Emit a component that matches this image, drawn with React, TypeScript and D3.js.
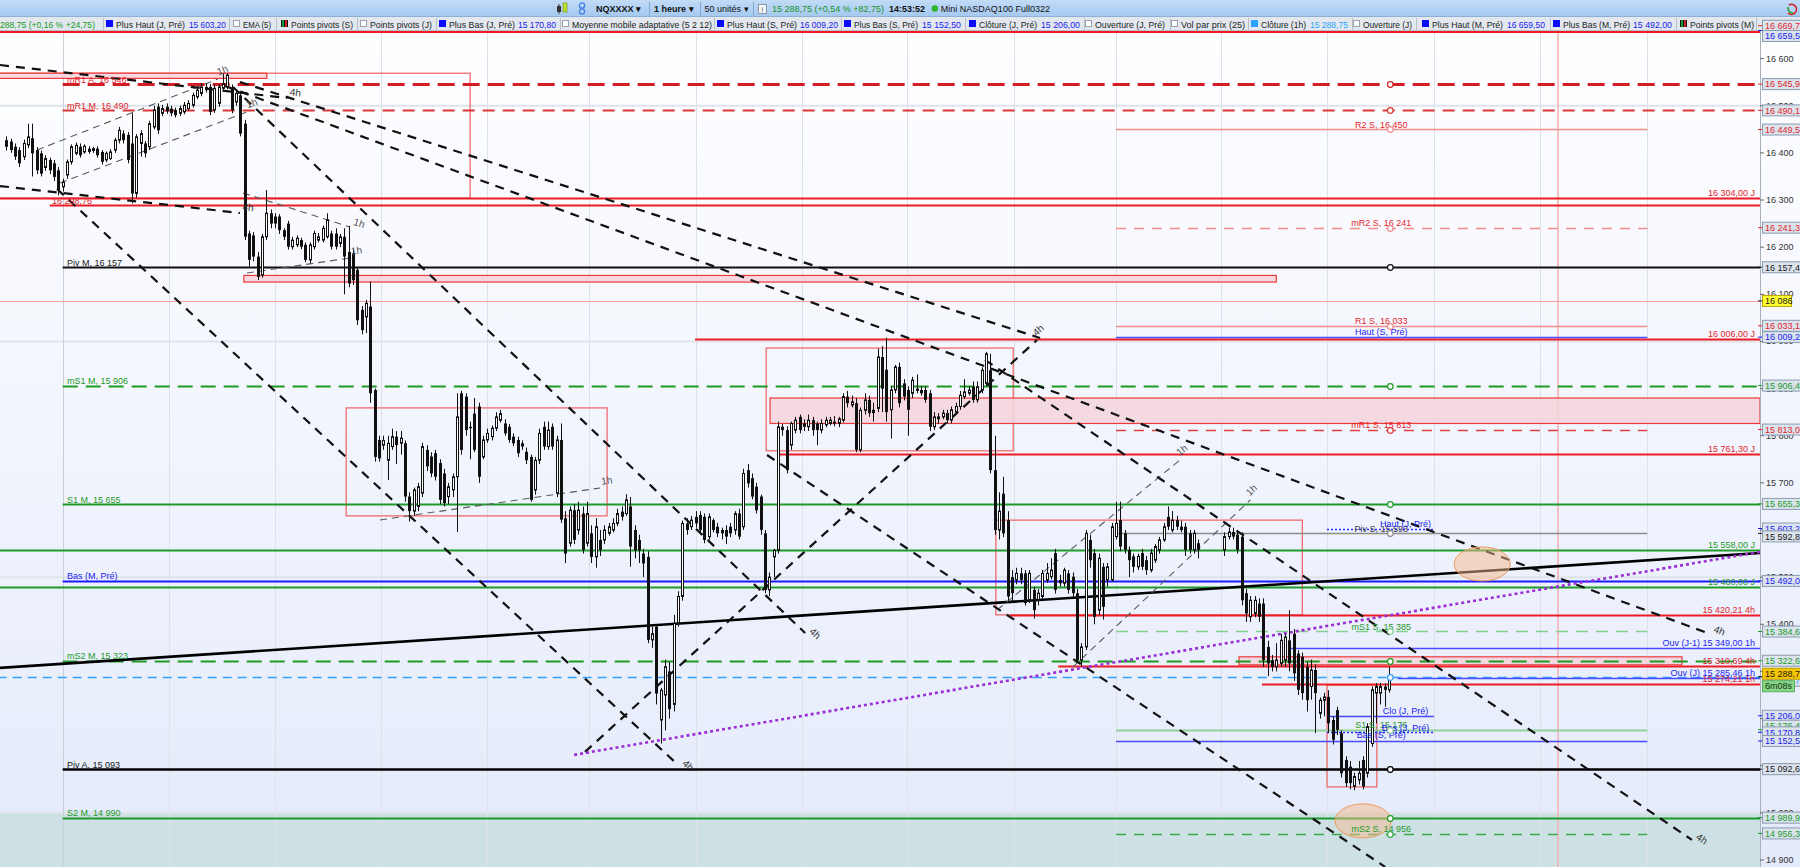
import React from 'react';
import * as d3 from 'd3';

type C = [number, number, number, number] | null;

// ---------- DATA ----------
// hourly candles [open, high, low, close]; null = no bar
const candles: C[] = [
  [16427,16435,16405,16413],[16424,16430,16400,16406],[16413,16420,16385,16392],[16406,16412,16370,16378],
  [16392,16428,16385,16420],[16417,16462,16410,16434],[16431,16462,16350,16399],[16406,16412,16355,16363],
  [16399,16405,16350,16356],[16369,16395,16362,16388],[16385,16390,16355,16363],[16378,16385,16340,16349],
  [16363,16370,16310,16321],[16328,16345,16318,16338],[16353,16386,16345,16381],[16381,16418,16375,16413],
  [16399,16422,16395,16416],[16413,16420,16390,16395],[16402,16418,16398,16414],[16409,16414,16398,16402],
  [16405,16413,16400,16409],[16409,16414,16390,16395],[16402,16406,16375,16381],[16385,16403,16380,16399],
  [16388,16408,16385,16402],[16406,16432,16400,16427],[16427,16455,16420,16448],[16441,16448,16420,16427],
  [16438,16444,16378,16385],[16420,16484,16293,16314],[16314,16440,16305,16434],[16420,16448,16392,16441],
  [16420,16425,16390,16399],[16413,16468,16406,16462],[16455,16500,16450,16491],[16498,16505,16440,16448],
  [16484,16502,16478,16494],[16498,16505,16483,16488],[16494,16500,16478,16484],[16491,16496,16475,16480],
  [16484,16500,16478,16494],[16487,16508,16482,16501],[16494,16512,16490,16505],[16501,16528,16496,16522],
  [16519,16540,16514,16533],[16526,16548,16520,16540],[16540,16548,16528,16533],[16540,16546,16480,16487],
  [16491,16545,16485,16537],[16505,16546,16498,16540],[16537,16568,16530,16547],[16540,16569,16535,16565],
  [16537,16545,16484,16491],[16508,16535,16500,16526],[16522,16530,16435,16441],[16462,16470,16215,16222],
  [16229,16235,16159,16173],[16225,16232,16170,16180],[16180,16190,16130,16137],[16141,16228,16135,16222],
  [16222,16321,16215,16272],[16272,16280,16240,16250],[16265,16272,16240,16250],[16265,16270,16228,16236],
  [16236,16240,16215,16222],[16250,16256,16195,16201],[16201,16222,16195,16215],[16205,16225,16200,16219],
  [16215,16220,16196,16201],[16205,16210,16168,16173],[16173,16210,16166,16205],[16201,16235,16195,16229],
  [16215,16230,16210,16222],[16215,16246,16210,16240],[16222,16272,16218,16258],[16229,16235,16195,16201],
  [16229,16240,16195,16201],[16208,16228,16200,16222],[16222,16240,16100,16180],[16190,16245,16115,16123],
  [16187,16195,16120,16130],[16152,16158,16035,16045],[16067,16075,16015,16024],[16052,16088,16018,16081],
  [16074,16127,15870,15890],[15897,15900,15745,15755],[15791,15800,15745,15752],[15780,15800,15770,15790],
  [15748,15800,15706,15784],[15777,15815,15770,15798],[15798,15810,15740,15780],[15784,15810,15760,15795],
  [15784,15790,15660,15671],[15671,15680,15618,15640],[15640,15690,15630,15685],[15650,15700,15640,15692],
  [15678,15785,15670,15777],[15770,15780,15725,15735],[15756,15765,15712,15720],[15763,15770,15705,15713],
  [15742,15750,15655,15664],[15720,15730,15650,15657],[15671,15700,15655,15692],[15685,15720,15670,15713],
  [15713,15890,15596,15840],[15890,15895,15760,15770],[15883,15890,15800,15812],[15819,15830,15750,15816],
  [15847,15880,15765,15770],[15862,15870,15700,15713],[15755,15800,15750,15791],[15791,15815,15785,15805],
  [15798,15822,15790,15816],[15816,15850,15810,15840],[15833,15855,15828,15847],[15826,15835,15800,15805],
  [15819,15825,15785,15791],[15798,15805,15778,15784],[15791,15798,15755,15763],[15784,15790,15770,15777],
  [15766,15775,15740,15748],[15755,15760,15660,15664],[15685,15755,15675,15748],[15748,15815,15740,15805],
  [15819,15830,15770,15777],[15777,15830,15770,15812],[15819,15826,15770,15777],[15678,15800,15670,15791],
  [15791,15826,15615,15622],[15625,15640,15530,15550],[15572,15650,15565,15642],[15642,15655,15570,15579],
  [15600,15660,15590,15642],[15635,15650,15550,15558],[15572,15660,15565,15635],[15593,15610,15530,15543],
  [15543,15625,15520,15607],[15579,15600,15545,15558],[15579,15610,15570,15600],[15593,15615,15588,15607],
  [15600,15625,15595,15614],[15614,15645,15608,15635],[15639,15650,15620,15628],
  [15635,15676,15630,15664],[15650,15670,15522,15565],[15600,15610,15540,15557],[15579,15590,15530,15557],
  [15550,15560,15500,15529],[15543,15555,15360,15367],[15367,15395,15350,15380],[15395,15400,15230,15253],
  [15197,15265,15147,15260],[15250,15325,15175,15310],[15300,15320,15200,15220],[15230,15420,15215,15402],
  [15402,15470,15395,15459],[15459,15620,15450,15614],[15614,15625,15590,15600],[15607,15630,15600,15621],
  [15628,15640,15605,15614],[15632,15640,15590,15600],[15628,15635,15572,15579],[15586,15635,15580,15628],
  [15621,15625,15595,15600],[15607,15615,15585,15593],[15600,15605,15580,15593],[15600,15610,15570,15586],
  [15607,15615,15585,15593],[15600,15640,15590,15635],[15635,15645,15580,15586],[15607,15730,15600,15720],
  [15727,15740,15690,15699],[15710,15720,15665,15671],[15692,15700,15635,15642],[15671,15675,15590,15600],
  [15593,15600,15466,15473],[15473,15510,15460,15500],[15543,15560,15500,15557],[15557,15830,15550,15819],
  [15819,15825,15800,15812],[15812,15820,15720,15727],[15780,15830,15770,15826],[15812,15840,15805,15833],
  [15840,15845,15805,15812],[15826,15835,15810,15819],[15819,15845,15810,15833],[15833,15840,15800,15812],
  [15826,15830,15780,15812],[15812,15835,15805,15826],[15823,15840,15818,15833],[15826,15840,15822,15833],
  [15830,15842,15820,15826],[15826,15840,15818,15836],[15833,15890,15828,15883],[15883,15895,15860,15869],
  [15865,15885,15860,15872],[15869,15880,15765,15770],[15770,15860,15765,15854],[15854,15890,15845,15876],
  [15876,15885,15840,15848],[15855,15870,15830,15848],[15858,15985,15850,15967],[15967,15990,15850,15900],
  [15940,16008,15830,15850],[15855,15905,15794,15897],[15897,15950,15890,15946],[15946,15955,15860,15869],
  [15911,15920,15875,15883],[15897,15905,15800,15855],[15890,15925,15880,15918],[15900,15930,15890,15895],
  [15897,15905,15885,15890],[15897,15905,15870,15876],[15890,15897,15810,15819],[15819,15850,15812,15840],
  [15836,15848,15825,15840],[15840,15855,15835,15848],[15848,15855,15826,15833],[15833,15862,15826,15855],
  [15850,15870,15845,15862],[15862,15895,15855,15886],[15883,15920,15878,15893],[15890,15905,15885,15897],
  [15904,15915,15870,15876],[15876,15915,15870,15904],[15897,15945,15890,15939],[15911,15978,15905,15974],
  [15939,15974,15720,15727],[15727,15800,15590,15600],[15600,15680,15580,15640],[15677,15713,15585,15593],
  [15621,15640,15450,15459],[15500,15515,15445,15466],[15494,15520,15485,15508],[15508,15520,15485,15494],
  [15508,15515,15440,15445],[15451,15515,15445,15508],[15473,15480,15412,15430],[15451,15475,15440,15466],
  [15459,15515,15450,15508],[15494,15530,15488,15508],[15501,15540,15495,15515],[15551,15560,15465,15473],
  [15494,15505,15480,15487],[15487,15520,15480,15515],[15508,15515,15465,15473],[15501,15510,15455,15466],
  [15466,15475,15318,15324],[15324,15360,15310,15352],[15352,15600,15345,15593],[15579,15590,15520,15536],
  [15551,15560,15400,15416],[15430,15550,15420,15540],[15522,15530,15410,15437],[15494,15530,15480,15522],
  [15494,15615,15490,15607],[15586,15660,15580,15614],[15621,15660,15555,15565],[15593,15600,15550,15558],
  [15558,15565,15500,15536],[15544,15550,15510,15522],[15522,15550,15515,15544],[15551,15560,15515,15522],
  [15536,15545,15505,15515],[15515,15560,15510,15551],[15536,15570,15530,15565],[15558,15585,15550,15579],
  [15579,15615,15575,15607],[15628,15650,15600,15607],[15600,15640,15595,15621],[15621,15630,15600,15607],
  [15607,15620,15595,15600],[15607,15615,15545,15558],[15593,15600,15550,15558],[15558,15600,15550,15593],
  [15572,15580,15540,15558],
  null, null, null, null, null,
  [15558,15595,15545,15586],[15586,15605,15580,15596],[15596,15605,15580,15586],[15590,15600,15550,15558],
  [15586,15595,15440,15451],[15466,15475,15405,15423],[15416,15460,15405,15451],[15423,15460,15415,15451],
  [15444,15455,15405,15416],[15444,15455,15310,15324],[15352,15365,15290,15317],[15324,15335,15300,15310],
  [15310,15360,15300,15324],[15317,15380,15310,15366],[15324,15380,15310,15373],[15366,15430,15300,15317],
  [15380,15390,15280,15296],[15338,15345,15250,15261],[15331,15340,15240,15254],[15310,15320,15215,15239],
  [15268,15325,15240,15303],[15303,15315,15169,15254],[15211,15245,15200,15239],[15239,15255,15205,15246],
  [15246,15260,15170,15190],[15197,15205,15145,15155],[15218,15225,15165,15176],[15169,15175,15075,15084],
  [15112,15120,15055,15063],[15098,15110,15050,15063],[15056,15085,15048,15077],[15070,15110,15060,15084],
  [15112,15120,15050,15056],[15084,15190,15075,15183],[15147,15268,15140,15261],[15254,15275,15190,15268],
  [15254,15275,15230,15268],[15268,15275,15225,15261],[15261,15310,15255,15288.75],
];

const priceTicks = d3.range(14900, 16601, 100);
const bandLevels = [16500, 16000, 15500, 15000];
const daySlots = [14, 38.5, 63, 87.5, 112, 135.4, 160.1, 184.6, 208.8, 233.5, 257, 281.3, 305.7, 330.4, 354.9, 379.6];
const LAST_SLOT = 320;
const RIGHT_SLOT = 405.6;
const NOW_SLOT = 359;
const MONTH_START = 14;
const WEEK_START = 257, WEEK_END = 379.6;
const DAY_START = 305.7, DAY_END = 330.4;
const MARK_SLOT = 320.3;

const longPivots = [
  { name: 'mR1 A', value: 16546, kind: 'redDashBold' },
  { name: 'mR1 M', value: 16490, kind: 'redDash' },
  { name: 'Piv M', value: 16157, kind: 'black' },
  { name: 'mS1 M', value: 15906, kind: 'greenDash' },
  { name: 'S1 M', value: 15655, kind: 'green' },
  { name: 'mS2 M', value: 15323, kind: 'greenDash' },
  { name: 'Piv A', value: 15093, kind: 'blackBold' },
  { name: 'S2 M', value: 14990, kind: 'green' },
];
const weekPivots = [
  { name: 'R2 S', value: 16450, kind: 'lightRed' },
  { name: 'mR2 S', value: 16241, kind: 'lightRedDash' },
  { name: 'R1 S', value: 16033, kind: 'lightRed' },
  { name: 'mR1 S', value: 15813, kind: 'redDashThin' },
  { name: 'Piv S', value: 15593, kind: 'gray' },
  { name: 'mS1 S', value: 15385, kind: 'lightGreenDash' },
  { name: 'S1 S', value: 15176, kind: 'lightGreen' },
  { name: 'mS2 S', value: 14956, kind: 'greenDashThin' },
];
const monthPrev = [{ name: 'Bas (M, Pré)', value: 15492, kind: 'blue' }];
const weekPrev = [
  { name: 'Haut (S, Pré)', value: 16009.2, kind: 'blueThin' },
  { name: 'Bas (S, Pré)', value: 15152.5, kind: 'blueThin' },
];
const dayPrev = [
  { name: 'Haut (J, Pré)', value: 15603.2, kind: 'blueDot' },
  { name: 'Clo (J, Pré)', value: 15206, kind: 'blueThin' },
  { name: 'Bas (J, Pré)', value: 15170.8, kind: 'blueDot' },
];
const rightLevels = [
  { value: 16304, label: '16 304,00 J', from: -1, kind: 'red' },
  { value: 16006, label: '16 006,00 J', from: 159.9, kind: 'red' },
  { value: 15761.3, label: '15 761,30 J', from: 179.5, kind: 'red' },
  { value: 15558, label: '15 558,00 J', from: -1, kind: 'green' },
  { value: 15480, label: '15 480,00 J', from: -1, kind: 'green' },
  { value: 15420.21, label: '15 420,21 4h', from: 232.6, kind: 'red' },
  { value: 15349, label: 'Ouv (J-1) 15 349,00 1h', from: 296.7, kind: 'blueThin' },
  { value: 15310.69, label: '15 310,69 4h', from: 243.7, kind: 'red' },
  { value: 15285.46, label: 'Ouv (J) 15 285,46 1h', from: 322, kind: 'blueThin' },
  { value: 15274.21, label: '15 274,21 1h', from: 290.7, kind: 'red' },
];
const leftTaggedLevel = { value: 16290, label: '16 298,76', from: 11, kind: 'red' };
const thinLevel = { value: 16086, kind: 'pink' };
const closeLevel = { value: 15288.75, kind: 'lightBlueDash' };

const trendLines = [
  { from: [-0.46, 16586.4], to: [65.8, 16516.4], tag: '4h' },
  { from: [51.5, 16541.9], to: [394.1, 15379.4], tag: '4h' },
  { from: [54.9, 16550.4], to: [239.5, 16007.3], tag: '' },
  { from: [-0.46, 16329.7], to: [54.9, 16272.5], tag: '4h' },
  { from: [12.7, 16323.4], to: [156.0, 15101.5], tag: '4h' },
  { from: [53.3, 16539.8], to: [185.3, 15381.5], tag: '4h' },
  { from: [226.8, 15960.9], to: [389.9, 14942.6], tag: '4h' },
  { from: [176.5, 15759.1], to: [319.1, 14885.4], tag: '' },
  { from: [134.5, 15129.3], to: [238.8, 16003.1], tag: '4h' },
];
const thinLines = [
  { from: [8.1, 16406.1], to: [49.8, 16556.7], tag: '1h' },
  { from: [13.4, 16336.1], to: [56.5, 16486.7], tag: '1h' },
  { from: [55.6, 16314.9], to: [80.3, 16242.8], tag: '1h' },
  { from: [56.5, 16145.2], to: [80.3, 16177.0], tag: '1h' },
  { from: [87.2, 15621.3], to: [138.0, 15689.2], tag: '1h' },
  { from: [229.6, 15430.5], to: [271.8, 15748.7], tag: '1h' },
  { from: [247.1, 15309.6], to: [288.0, 15663.7], tag: '1h' },
];
const channelLine = { from: [-0.46, 15307.5], to: [405.6, 15551.4] };
const purpleLine = { from: [132.0, 15123.0], to: [405.6, 15553.5] };

const zones = [
  { x0: -1, x1: 108.0, p0: 16304, p1: 16569, fill: false },
  { x0: -1, x1: 61.1, p0: 16558, p1: 16569, fill: true },
  { x0: 55.8, x1: 294.0, p0: 16126, p1: 16140, fill: true },
  { x0: 79.4, x1: 139.6, p0: 15630, p1: 15859, fill: false },
  { x0: 176.3, x1: 233.3, p0: 15768, p1: 15986, fill: false },
  { x0: 177.2, x1: 405.6, p0: 15826, p1: 15880, fill: true },
  { x0: 229.3, x1: 300.0, p0: 15420, p1: 15621, fill: false },
  { x0: 305.7, x1: 317.2, p0: 15055, p1: 15271, fill: false },
  { x0: 285.4, x1: 387.6, p0: 15314, p1: 15331, fill: true },
];
const highlights = [
  { slot: 341.5, price: 15528 },
  { slot: 314.0, price: 14983 },
];

const axisMarks = [
  { v: 16669.7, c: 'red' }, { v: 16659.5, c: 'blue' }, { v: 16545.9, c: 'red' }, { v: 16490.15, c: 'red' },
  { v: 16449.53, c: 'red' }, { v: 16241.35, c: 'red' }, { v: 16157.43, c: 'black' }, { v: 16086, c: 'black', bg: 'yellow', dec: 0 },
  { v: 16033.17, c: 'red' }, { v: 16009.2, c: 'blue' }, { v: 15906.4, c: 'green' }, { v: 15813.06, c: 'red' },
  { v: 15655.37, c: 'green' }, { v: 15603.2, c: 'blue' }, { v: 15592.83, c: 'black', shift: 3 }, { v: 15492, c: 'blue' },
  { v: 15384.65, c: 'green' }, { v: 15322.65, c: 'green' }, { v: 15288.75, c: 'lblue', shift: 4 },
  { v: 15288.75, c: 'black', bg: 'orange', shift: -3 }, { v: 15206, c: 'blue' }, { v: 15176.4, c: 'green', shift: -4 },
  { v: 15170.8, c: 'blue' }, { v: 15152.5, c: 'blue' }, { v: 15092.67, c: 'black' }, { v: 14989.93, c: 'green' },
  { v: 14956.38, c: 'green' },
];

const legendItems = [
  { label: 'Plus Haut (J, Pré)', value: '15 603,20', icon: 'blue' },
  { label: 'EMA (5)', icon: 'box' },
  { label: 'Points pivots (S)', icon: 'multi' },
  { label: 'Points pivots (J)', icon: 'box' },
  { label: 'Plus Bas (J, Pré)', value: '15 170,80', icon: 'blue' },
  { label: 'Moyenne mobile adaptative (5 2 12)', icon: 'box' },
  { label: 'Plus Haut (S, Pré)', value: '16 009,20', icon: 'blue' },
  { label: 'Plus Bas (S, Pré)', value: '15 152,50', icon: 'blue' },
  { label: 'Clôture (J, Pré)', value: '15 206,00', icon: 'blue' },
  { label: 'Ouverture (J, Pré)', icon: 'box' },
  { label: 'Vol par prix (25)', icon: 'box' },
  { label: 'Clôture (1h)', value: '15 288,75', icon: 'lblue' },
  { label: 'Ouverture (J)', icon: 'box' },
  { label: 'Plus Haut (M, Pré)', value: '16 659,50', icon: 'blue' },
  { label: 'Plus Bas (M, Pré)', value: '15 492,00', icon: 'blue' },
  { label: 'Points pivots (M)', icon: 'multi' },
];
const firstLegendText = '288,75 (+0,16 % +24,75)';
const symbolItems = ['NQXXXX', '1 heure', '50 unités'];
const quoteText = '15 288,75 (+0,54 % +82,75)';
const quoteTime = '14:53:52';
const instrumentName = 'Mini NASDAQ100 Full0322';

// ---------- STYLE / LAYOUT ----------
const FONT = '"Liberation Sans", Arial, Helvetica, sans-serif';
const PLOT_R = 1760, PLOT_T = 31, H = 867, W = 1800;
const LEG_FS = 8.8;
// toolbar legend layout: [separatorX, labelX, labelEnd, valueX, valueEnd]
const legendLayout: number[][] = [
  [103, 116, 185, 189, 226], [229, 243, 271], [276, 291, 353], [357, 370, 432],
  [436, 449, 515, 518, 556], [560, 572, 712], [714, 727, 797, 800, 838], [841, 854, 918, 922, 961],
  [965, 979, 1037, 1041, 1080], [1084, 1095, 1165], [1170, 1181, 1245], [1248, 1261, 1306, 1310, 1348],
  [1352, 1363, 1412], [1416, 1432, 1503, 1507, 1545], [1550, 1563, 1630, 1633, 1672], [1676, 1690, 1754],
];
const LEGEND_END = 1756;

const COL: Record<string, string> = {
  red: '#e3262c', green: '#1e9a2a', blue: '#1c1cf0', black: '#1a1a1a', lblue: '#2aa2ff', gray: '#444',
};
const STY: Record<string, { s: string; w: number; d?: string; t: string }> = {
  redDashBold: { s: '#d41e26', w: 3, d: '17 8', t: COL.red },
  redDash: { s: '#d93636', w: 2, d: '12 8', t: COL.red },
  black: { s: '#111', w: 2, t: COL.black },
  blackBold: { s: '#000', w: 2.6, t: COL.black },
  greenDash: { s: '#1d9a22', w: 2, d: '15 8', t: COL.green },
  green: { s: '#1e9a2a', w: 2, t: COL.green },
  lightRed: { s: '#f08c8c', w: 1.5, t: COL.red },
  lightRedDash: { s: '#f08c8c', w: 1.5, d: '10 8', t: COL.red },
  redDashThin: { s: '#e04040', w: 1.3, d: '10 8', t: COL.red },
  gray: { s: '#8c8c8c', w: 1.6, t: COL.gray },
  lightGreenDash: { s: '#82cf90', w: 1.5, d: '12 8', t: COL.green },
  lightGreen: { s: '#92cf9c', w: 2, t: COL.green },
  greenDashThin: { s: '#3aaa4a', w: 1.3, d: '10 8', t: COL.green },
  blue: { s: '#1a1aff', w: 2, t: COL.blue },
  blueThin: { s: '#4a4aff', w: 1.4, t: COL.blue },
  blueDot: { s: '#2a2aff', w: 1.3, d: '2 2', t: COL.blue },
  red: { s: '#ee1c24', w: 2, t: COL.red },
  pink: { s: '#f6a0a0', w: 1.2, t: COL.red },
  lightBlueDash: { s: '#33a0ff', w: 1.5, d: '9 6', t: COL.lblue },
};

const x = d3.scaleLinear().domain([0, LAST_SLOT]).range([2, 1389]);
const y = d3.scaleLinear().domain([14900, 16600]).range([860, 58.6]);

function fmtNum(v: number, dec = 2) {
  const [i, d] = v.toFixed(dec).split('.');
  const ii = i.replace(/\B(?=(\d{3})+(?!\d))/g, ' ');
  return d ? ii + ',' + d : ii;
}

const CW: Record<string, number> = {
  ' ': 278, '(': 333, ')': 333, ',': 278, '.': 278, '%': 889, '+': 584, '-': 333, ':': 278, '▾': 600,
  A: 667, B: 667, C: 722, D: 722, E: 667, F: 611, G: 778, H: 722, I: 278, J: 500, K: 667, L: 556, M: 833,
  N: 722, O: 778, P: 667, Q: 778, R: 722, S: 667, T: 611, U: 722, V: 667, W: 944, X: 667, Y: 667, Z: 611,
  a: 556, b: 556, c: 500, d: 556, e: 556, f: 278, g: 556, h: 556, i: 222, j: 222, k: 500, l: 222, m: 833,
  n: 556, o: 556, p: 556, q: 556, r: 333, s: 500, t: 278, u: 556, v: 500, w: 722, x: 500, y: 500, z: 500,
  'é': 556, 'ô': 556,
};
function tw(text: string, size: number, bold = false) {
  let s = 0;
  for (const ch of text) s += CW[ch] ?? 556;
  return (s * size) / 1000 * (bold ? 1.08 : 1);
}

function HLine({ value, from, to, kind }: { value: number; from: number; to: number; kind: string }) {
  const st = STY[kind];
  const yy = Math.round(y(value)) + 0.5;
  return <line x1={x(from)} x2={x(to)} y1={yy} y2={yy} stroke={st.s} strokeWidth={st.w} strokeDasharray={st.d} />;
}

function Tag({ from, to, tag, color }: { from: number[]; to: number[]; tag: string; color: string }) {
  if (!tag) return null;
  const x1 = x(from[0]), y1 = y(from[1]), x2 = x(to[0]), y2 = y(to[1]);
  let ang = (Math.atan2(y2 - y1, x2 - x1) * 180) / Math.PI;
  if (ang > 90) ang -= 180;
  if (ang < -90) ang += 180;
  return (
    <text x={x2} y={y2} transform={`rotate(${ang} ${x2} ${y2}) translate(2 -3)`} fontSize={10} fill={color} fontFamily={FONT}>
      {tag}
    </text>
  );
}

function LText({ x0, x1, text, fill }: { x0: number; x1: number; text: string; fill: string }) {
  return (
    <text x={x0} y={27.5} fill={fill} textLength={x1 - x0} lengthAdjust="spacingAndGlyphs">
      {text}
    </text>
  );
}

export default function App() {
  const off = LAST_SLOT - (candles.length - 1);

  // legend row
  const legendEls: React.ReactNode[] = [];
  legendEls.push(<LText key="l0" x0={0} x1={95} text={firstLegendText} fill="#179a1d" />);
  legendItems.forEach((it, i) => {
    const L = legendLayout[i];
    const sx = L[0];
    const ix = L[1] - 10;
    legendEls.push(<line key={`s${i}`} x1={sx + 0.5} x2={sx + 0.5} y1={18} y2={30} stroke="#b7bfca" />);
    if (it.icon === 'blue' || it.icon === 'lblue') {
      legendEls.push(<rect key={`i${i}`} x={ix} y={20} width={7} height={7} fill={it.icon === 'blue' ? '#0a0aff' : '#2aa2ff'} />);
    } else if (it.icon === 'multi') {
      legendEls.push(
        <g key={`i${i}`}>
          <rect x={ix} y={20} width={7} height={7} fill="#111" />
          <rect x={ix + 1} y={20} width={2} height={7} fill="#1a9a2a" />
          <rect x={ix + 4} y={20} width={2} height={7} fill="#d02020" />
        </g>
      );
    } else {
      legendEls.push(<rect key={`i${i}`} x={ix + 0.5} y={20.5} width={6} height={6} fill="#fff" stroke="#9aa2ad" />);
    }
    legendEls.push(<LText key={`t${i}`} x0={L[1]} x1={L[2]} text={it.label} fill="#222" />);
    if (it.value && L.length > 3) {
      legendEls.push(<LText key={`v${i}`} x0={L[3]} x1={L[4]} text={it.value} fill={it.icon === 'lblue' ? '#2aa2ff' : '#2020ee'} />);
    }
  });
  legendEls.push(<line key="send" x1={LEGEND_END + 0.5} x2={LEGEND_END + 0.5} y1={18} y2={30} stroke="#b7bfca" />);

  // top row
  const topEls: React.ReactNode[] = [];
  let tx = 596;
  symbolItems.forEach((s, i) => {
    const bold = i < 2;
    topEls.push(<text key={`sy${i}`} x={tx} y={12} fontWeight={bold ? 'bold' : 'normal'} fill="#111">{s + ' ▾'}</text>);
    tx += tw(s + ' ▾', 9, bold) + 4;
    topEls.push(<line key={`sl${i}`} x1={Math.round(tx) + 0.5} x2={Math.round(tx) + 0.5} y1={2} y2={16} stroke="#86a8cf" />);
    tx += 5;
  });
  topEls.push(
    <g key="info">
      <rect x={tx + 0.5} y={4.5} width={8} height={9} fill="#f4f6f8" stroke="#8a96a6" />
      <text x={tx + 3.5} y={12} fontSize={7} fill="#555">i</text>
    </g>
  );
  tx += 14;
  topEls.push(<text key="q" x={tx} y={12} fill="#17941c">{quoteText}</text>);
  tx += tw(quoteText, 9) + 5;
  topEls.push(<text key="qt" x={tx} y={12} fontWeight="bold" fill="#111">{quoteTime}</text>);
  tx += tw(quoteTime, 9, true) + 5;
  topEls.push(<circle key="dot" cx={tx + 3} cy={8.5} r={3.3} fill="#2db52d" />);
  tx += 9;
  topEls.push(<text key="nm" x={tx} y={12} fill="#111">{instrumentName}</text>);

  const pr = (kind: string) => STY[kind];

  return (
    <svg width={W} height={H} style={{ position: 'absolute', left: 0, top: 0, display: 'block' }} fontFamily={FONT} fontSize={9}>
      <defs>
        <linearGradient id="bg" x1="0" y1="0" x2="0" y2="1">
          <stop offset="0" stopColor="#ffffff" />
          <stop offset="0.35" stopColor="#f6f8fe" />
          <stop offset="1" stopColor="#e3eafa" />
        </linearGradient>
        <linearGradient id="tb" x1="0" y1="0" x2="0" y2="1">
          <stop offset="0" stopColor="#c2dbf7" />
          <stop offset="1" stopColor="#a4c8f0" />
        </linearGradient>
        <clipPath id="plot">
          <rect x={0} y={PLOT_T} width={PLOT_R} height={H - PLOT_T} />
        </clipPath>
      </defs>

      <rect x={0} y={0} width={W} height={H} fill="url(#bg)" />

      <g clipPath="url(#plot)">
        <rect x={0} y={y(15000)} width={PLOT_R} height={H - y(15000)} fill="#cde0e4" />
        {bandLevels.map((b) => (
          <line key={b} x1={0} x2={PLOT_R} y1={y(b)} y2={y(b)} stroke="#dfe3ea" strokeWidth={2} />
        ))}
        {daySlots.map((s, i) => (
          <line key={i} x1={Math.round(x(s)) + 0.5} x2={Math.round(x(s)) + 0.5} y1={PLOT_T} y2={H} stroke={i === 0 ? '#c9d0da' : '#dde2ea'} strokeWidth={1} />
        ))}
        <line x1={x(NOW_SLOT)} x2={x(NOW_SLOT)} y1={PLOT_T} y2={H} stroke="#f4b0b0" strokeWidth={1.5} />

        {zones.map((z, i) => (
          <rect key={i} x={x(z.x0)} y={y(z.p1)} width={x(z.x1) - x(z.x0)} height={y(z.p0) - y(z.p1)}
            fill={z.fill ? '#f4d4dc' : 'none'} fillOpacity={z.fill ? 0.85 : 0} stroke={z.fill ? '#ee3a3a' : '#f06060'} strokeWidth={1.2} />
        ))}

        <line x1={0} x2={PLOT_R} y1={PLOT_T + 1} y2={PLOT_T + 1} stroke="#ee1c24" strokeWidth={2} />
        <HLine value={thinLevel.value} from={-1} to={RIGHT_SLOT} kind={thinLevel.kind} />
        <HLine value={closeLevel.value} from={-1} to={RIGHT_SLOT} kind={closeLevel.kind} />
        {rightLevels.map((l, i) => <HLine key={i} value={l.value} from={l.from} to={RIGHT_SLOT} kind={l.kind} />)}
        <HLine value={leftTaggedLevel.value} from={leftTaggedLevel.from} to={RIGHT_SLOT} kind={leftTaggedLevel.kind} />
        {weekPivots.map((l, i) => <HLine key={i} value={l.value} from={WEEK_START} to={WEEK_END} kind={l.kind} />)}
        {weekPrev.map((l, i) => <HLine key={i} value={l.value} from={WEEK_START} to={WEEK_END} kind={l.kind} />)}
        {dayPrev.map((l, i) => <HLine key={i} value={l.value} from={DAY_START} to={DAY_END} kind={l.kind} />)}
        {monthPrev.map((l, i) => <HLine key={i} value={l.value} from={MONTH_START} to={RIGHT_SLOT} kind={l.kind} />)}
        {longPivots.map((l, i) => <HLine key={i} value={l.value} from={MONTH_START} to={RIGHT_SLOT} kind={l.kind} />)}

        <line x1={x(channelLine.from[0])} y1={y(channelLine.from[1])} x2={x(channelLine.to[0])} y2={y(channelLine.to[1])} stroke="#000" strokeWidth={2.6} />
        {thinLines.map((t, i) => (
          <line key={i} x1={x(t.from[0])} y1={y(t.from[1])} x2={x(t.to[0])} y2={y(t.to[1])} stroke="#5a5a5a" strokeWidth={1.1} strokeDasharray="7 5" />
        ))}
        {trendLines.map((t, i) => (
          <line key={i} x1={x(t.from[0])} y1={y(t.from[1])} x2={x(t.to[0])} y2={y(t.to[1])} stroke="#111" strokeWidth={2.2} strokeDasharray="9 7" />
        ))}
        <line x1={x(purpleLine.from[0])} y1={y(purpleLine.from[1])} x2={x(purpleLine.to[0])} y2={y(purpleLine.to[1])} stroke="#9b2fd6" strokeWidth={2.6} strokeDasharray="3 3" />

        {candles.map((c, i) => {
          if (!c) return null;
          const [o, h, l, cl] = c;
          const px = Math.round(x(i + off)) + 0.5;
          const up = cl >= o;
          const yT = y(Math.max(o, cl));
          const yB = y(Math.min(o, cl));
          return (
            <g key={i}>
              <line x1={px} x2={px} y1={y(h)} y2={y(l)} stroke="#111" strokeWidth={1} />
              {up ? (
                <rect x={px - 1} y={yT} width={2} height={Math.max(1, yB - yT)} fill="#fff" stroke="#111" strokeWidth={1} />
              ) : (
                <rect x={px - 1.5} y={yT} width={3} height={Math.max(1, yB - yT)} fill="#111" />
              )}
            </g>
          );
        })}

        {highlights.map((e, i) => (
          <ellipse key={i} cx={x(e.slot)} cy={y(e.price)} rx={28} ry={17} fill="#f5b98e" fillOpacity={0.5} stroke="#ef9a5c" strokeWidth={1} />
        ))}

        {trendLines.map((t, i) => <Tag key={i} from={t.from} to={t.to} tag={t.tag} color="#333" />)}
        {thinLines.map((t, i) => <Tag key={i} from={t.from} to={t.to} tag={t.tag} color="#555" />)}

        {longPivots.map((l, i) => (
          <text key={i} x={67} y={y(l.value) - 1.5} fill={pr(l.kind).t}>{`${l.name}, ${fmtNum(l.value, 0)}`}</text>
        ))}
        {monthPrev.map((l, i) => (
          <text key={i} x={67} y={y(l.value) - 1.5} fill={pr(l.kind).t}>{l.name}</text>
        ))}
        <text x={52} y={y(leftTaggedLevel.value) - 1} fill={COL.red}>{leftTaggedLevel.label}</text>
        {weekPivots.map((l, i) => (
          <text key={i} x={x(318.2)} y={y(l.value) - 1.5} textAnchor="middle" fill={pr(l.kind).t}>{`${l.name}, ${fmtNum(l.value, 0)}`}</text>
        ))}
        {weekPrev.map((l, i) => (
          <text key={i} x={x(318.2)} y={y(l.value) - 2.5} textAnchor="middle" fill={pr(l.kind).t}>{l.name}</text>
        ))}
        {dayPrev.map((l, i) => (
          <text key={i} x={x(323.8)} y={y(l.value) - 1.5} textAnchor="middle" fill={pr(l.kind).t}>{l.name}</text>
        ))}
        {rightLevels.map((l, i) => (
          <text key={i} x={1755} y={y(l.value) - 2} textAnchor="end" fill={pr(l.kind).t}>{l.label}</text>
        ))}

        {[...longPivots, ...weekPivots, closeLevel].map((l, i) => (
          <circle key={i} cx={x(MARK_SLOT)} cy={Math.round(y(l.value)) + 0.5} r={2.8} fill="#fff" stroke={pr(l.kind).s} strokeWidth={1.2} />
        ))}
      </g>

      <line x1={PLOT_R + 0.5} x2={PLOT_R + 0.5} y1={PLOT_T} y2={H} stroke="#a8b0bc" />
      {priceTicks.map((p) => (
        <g key={p}>
          <line x1={PLOT_R} x2={PLOT_R + 4} y1={y(p)} y2={y(p)} stroke="#666" />
          <text x={1766} y={y(p) + 3} fill="#333">{fmtNum(p, 0)}</text>
        </g>
      ))}

      <rect x={0} y={0} width={W} height={17} fill="url(#tb)" />
      <line x1={0} x2={W} y1={16.5} y2={16.5} stroke="#8fb0d6" />
      <rect x={0} y={17} width={W} height={13} fill="#e3e8ef" />
      <line x1={0} x2={W} y1={30.5} y2={30.5} stroke="#b9c2ce" />
      <g>
        <rect x={557} y={6} width={4} height={6} fill="#333" />
        <line x1={559} x2={559} y1={4} y2={14} stroke="#333" />
        <rect x={563} y={3} width={4} height={9} fill="#c4e030" stroke="#6a8a10" strokeWidth={0.6} />
        <circle cx={582} cy={5.5} r={2.6} fill="none" stroke="#3c7de0" strokeWidth={1.2} />
        <circle cx={582} cy={11.5} r={2.6} fill="none" stroke="#3c7de0" strokeWidth={1.2} />
        <path d="M1789 5 a5 5 0 1 1 -1 8" fill="none" stroke="#d02020" strokeWidth={1.6} />
        <path d="M1793 13 a5 5 0 0 1 -5 -6" fill="none" stroke="#20a020" strokeWidth={1.6} />
      </g>
      <g fontSize={9}>{topEls}</g>
      <g fontSize={LEG_FS}>{legendEls}</g>

      {axisMarks.map((m, i) => {
        let cy = y(m.v) + (m.shift || 0);
        if (i > 0 && cy < 36) cy = 36;
        const bg = m.bg === 'yellow' ? '#ffff33' : m.bg === 'orange' ? '#f7c600' : '#dbe3ed';
        const txt = fmtNum(m.v, m.dec === 0 ? 0 : 2);
        return (
          <g key={i}>
            <line x1={PLOT_R - 2} x2={PLOT_R + 4} y1={y(m.v)} y2={y(m.v)} stroke={COL[m.c]} />
            <rect x={1762.5} y={cy - 5.5} width={m.dec === 0 ? 29 : 44} height={11} fill={bg} stroke={m.bg ? '#b8a000' : '#8c9bb0'} strokeWidth={1} />
            <text x={1765} y={cy + 3.3} fill={COL[m.c]}>{txt}</text>
          </g>
        );
      })}
      <rect x={1762.5} y={y(15288.75) + 4} width={32} height={11} fill="#86d686" stroke="#5cae5c" />
      <text x={1765} y={y(15288.75) + 12.5} fill="#113311">6m08s</text>
    </svg>
  );
}
